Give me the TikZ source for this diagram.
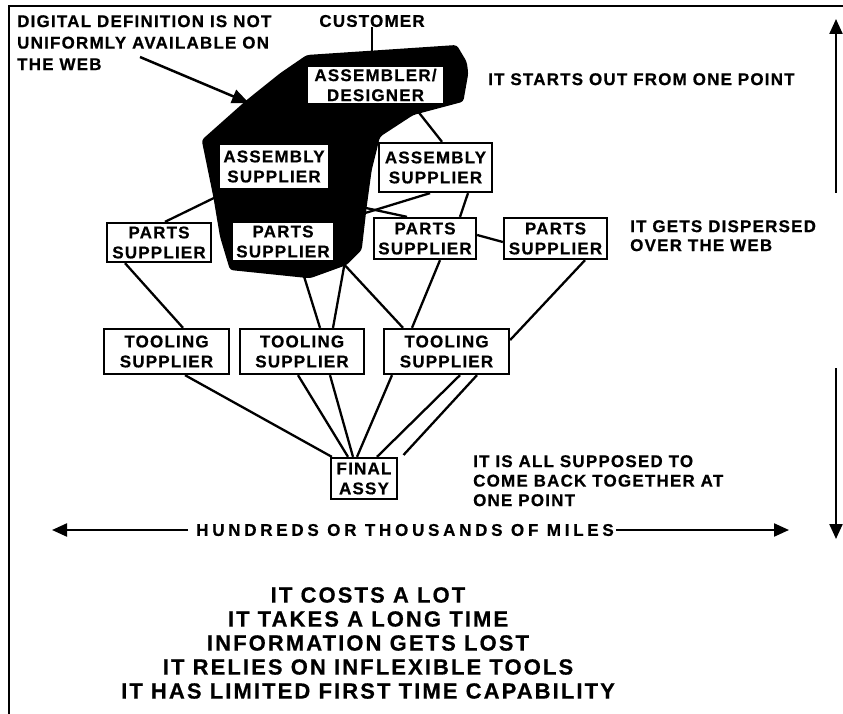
\documentclass[tikz,border=0pt]{standalone}
\usepackage{fontspec}
\setmainfont{Liberation Sans}
\newfontfamily\labfont{Liberation Sans}[LetterSpace=7,FakeBold=0.6]
\newfontfamily\hundfont{Liberation Sans}[LetterSpace=22,FakeBold=0.6]
\newfontfamily\botfont{Liberation Sans}[LetterSpace=9.5,FakeBold=0.6]
\usetikzlibrary{arrows.meta,calc}
\pgfdeclarelayer{bg}
\pgfdeclarelayer{mid}
\pgfsetlayers{bg,mid,main}
\begin{document}
\begin{tikzpicture}[x=1pt,y=-1pt,
  lab/.style={font=\labfont\bfseries\fontsize{17}{20}\selectfont, align=center, inner sep=0pt},
  box/.style={lab, draw, line width=2.3pt, fill=white},
  wbox/.style={lab, fill=white},
  note/.style={font=\labfont\bfseries\fontsize{17}{20}\selectfont, align=left, inner sep=0pt},
  conn/.style={line width=2.3pt},
  arr/.style={line width=2.2pt, -{Triangle[length=15pt,width=13pt]}},
]
\useasboundingbox (0,0) rectangle (843,714);
\draw[line width=2.5pt] (843,6) -- (9,6) -- (9,714);

% boxes
\node[wbox, minimum width=135pt, minimum height=36pt] (des) at (375.5,85) {ASSEMBLER/\\DESIGNER};
\node[wbox, minimum width=108pt, minimum height=43pt] (asL) at (274,166.5) {ASSEMBLY\\SUPPLIER};
\node[wbox, minimum width=100pt, minimum height=37pt] (paC) at (283,241.5) {PARTS\\SUPPLIER};
\node[box, minimum width=113pt, minimum height=49pt] (asR) at (435.5,167.5) {ASSEMBLY\\SUPPLIER};
\node[box, minimum width=102pt, minimum height=41pt] (paM) at (425,238.5) {PARTS\\SUPPLIER};
\node[box, minimum width=103pt, minimum height=41pt] (paR) at (555.5,238.5) {PARTS\\SUPPLIER};
\node[box, minimum width=104pt, minimum height=39pt] (paL) at (159,242.5) {PARTS\\SUPPLIER};
\node[box, minimum width=125pt, minimum height=45pt] (toL) at (166.5,351.5) {TOOLING\\SUPPLIER};
\node[box, minimum width=124pt, minimum height=45pt] (toM) at (302,351.5) {TOOLING\\SUPPLIER};
\node[box, minimum width=125pt, minimum height=45pt] (toR) at (446.5,351.5) {TOOLING\\SUPPLIER};
\node[box, minimum width=66pt, minimum height=41pt] (fin) at (364,478.5) {FINAL\\ASSY};

% texts
\node[lab] (cust) at (372,21) {CUSTOMER};
\node[note, anchor=north west, font=\labfont\bfseries\fontsize{17}{21.5}\selectfont] (digi) at (17,15) {DIGITAL DEFINITION IS NOT\\UNIFORMLY AVAILABLE ON\\THE WEB};
\node[note, anchor=north west] (starts) at (488,73) {IT STARTS OUT FROM ONE POINT};
\node[note, anchor=north west, font=\labfont\bfseries\fontsize{17}{19}\selectfont] (disp) at (630,220) {IT GETS DISPERSED\\OVER THE WEB};
\node[note, anchor=north west, font=\labfont\bfseries\fontsize{17}{19.5}\selectfont] (back) at (473,455) {IT IS ALL SUPPOSED TO\\COME BACK TOGETHER AT\\ONE POINT};
\node[inner sep=0pt, font=\hundfont\bfseries\fontsize{17}{20}\selectfont] (hund) at (405,530) {HUNDREDS OR THOUSANDS OF MILES};
\node[inner sep=0pt, align=center, font=\botfont\bfseries\fontsize{22}{24}\selectfont] (bot) at (368,643) {IT COSTS A LOT\\IT TAKES A LONG TIME\\INFORMATION GETS LOST\\IT RELIES ON INFLEXIBLE TOOLS\\IT HAS LIMITED FIRST TIME CAPABILITY};

% free coordinates
\coordinate (custE) at (372,58);
\coordinate (finX) at (403.5,455);
\coordinate (arrS) at (140,57);
\coordinate (arrT) at (249,103);
\coordinate (hL) at (52,530);
\coordinate (hR) at (789,530);
\coordinate (vu1) at (836,193);
\coordinate (vu2) at (836,19);
\coordinate (vd1) at (836,368);
\coordinate (vd2) at (836,539);

% blob
\begin{pgfonlayer}{mid}
\fill[rounded corners=3pt] (306.7,55) -- (456.7,45) -- (466.7,61.7) -- (468.3,73.3) -- (463.3,101.7) -- (413.3,115) -- (380,136.7) -- (371.7,170) -- (366.7,206.7) -- (361.7,250) -- (346.7,265) -- (310,278.3) -- (230,270) -- (220,236.7) -- (213.3,196.7) -- (201.7,140) -- (246.7,100) -- (280,73.3) -- cycle;
\end{pgfonlayer}

% connectors
\begin{pgfonlayer}{bg}
\draw[conn] (cust.south) -- (custE);
\draw[conn] ([xshift=36pt]des.south) -- ([xshift=6.5pt]asR.north);
\draw[conn] ([xshift=-40pt]asL.south) -- ([xshift=6pt]paL.north);
\draw[conn] ([xshift=-5.5pt]asR.south) -- (paC.north east);
\draw[conn] (asL.south) -- ([xshift=-18pt]paM.north);
\draw[conn] ([xshift=32.5pt]asR.south) -- ([xshift=35pt]paM.north);
\draw[conn] ([yshift=3.5pt]paM.east) -- ([yshift=-3.5pt]paR.west);
\draw[conn] ([xshift=-34pt]paL.south) -- ([xshift=16.5pt]toL.north);
\draw[conn] ([xshift=16pt]paC.south) -- ([xshift=18pt]toM.north);
\draw[conn] ([xshift=12pt]paC.south east) -- ([xshift=31pt]toM.north);
\draw[conn] ([xshift=7pt]paC.south east) -- ([xshift=-43.5pt]toR.north);
\draw[conn] ([xshift=15pt]paM.south) -- ([xshift=-34.5pt]toR.north);
\draw[conn] ([xshift=29.5pt]paR.south) -- ([yshift=11.5pt]toR.east);
\draw[conn] ([xshift=18.5pt]toL.south) -- ([xshift=2pt]fin.north west);
\draw[conn] ([xshift=-4pt]toM.south) -- ([xshift=-16pt]fin.north);
\draw[conn] ([xshift=28pt]toM.south) -- ([xshift=-11pt]fin.north);
\draw[conn] ([xshift=-54.5pt]toR.south) -- ([xshift=-7pt]fin.north);
\draw[conn] ([xshift=13.5pt]toR.south) -- ([xshift=13pt]fin.north);
\draw[conn] ([xshift=30.5pt]toR.south) -- (finX);
\end{pgfonlayer}

% arrows
\draw[line width=2.5pt, -{Triangle[length=17pt,width=14pt]}] (arrS) -- (arrT);
\draw[arr] ([xshift=-8pt]hund.west) -- (hL);
\draw[arr] ([xshift=2pt]hund.east) -- (hR);
\draw[arr] (vu1) -- (vu2);
\draw[arr] (vd1) -- (vd2);
\end{tikzpicture}
\end{document}
